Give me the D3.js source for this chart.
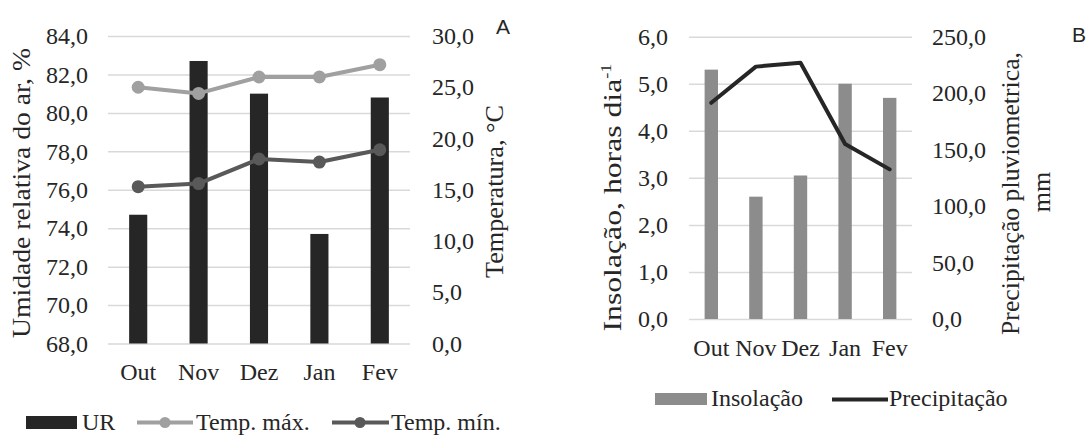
<!DOCTYPE html>
<html>
<head>
<meta charset="utf-8">
<script src="https://cdn.jsdelivr.net/npm/d3@7"></script>
<style>
  html, body { margin: 0; padding: 0; background: #fff; }
  svg { display: block; }
  text { font-family: "Liberation Serif", "Times New Roman", serif; fill: #262626; }
</style>
</head>
<body>
<script>
// ---------- data ----------
const months = ["Out", "Nov", "Dez", "Jan", "Fev"];
const ur = [74.7, 82.7, 81.0, 73.7, 80.8];
const tempMax = [25.0, 24.4, 26.0, 26.0, 27.2];
const tempMin = [15.3, 15.6, 18.0, 17.7, 18.9];
const insolacao = [5.3, 2.6, 3.05, 5.0, 4.7];
const precipitacao = [191.5, 223.5, 227.0, 155.0, 132.5];

const urTicks = [68, 70, 72, 74, 76, 78, 80, 82, 84];
const tempTicks = [0, 5, 10, 15, 20, 25, 30];
const insTicks = [0, 1, 2, 3, 4, 5, 6];
const precTicks = [0, 50, 100, 150, 200, 250];

const fmt = v => d3.format(".1f")(v).replace(".", ",");

const W = 1088, H = 435;
const svg = d3.select("body").append("svg").attr("width", W).attr("height", H);

const gridColor = "#d9d9d9";
const tickFont = 24;
const textColor = "#262626";

function styleAxis(g) {
  g.select(".domain").remove();
  g.selectAll("text").style("font-size", tickFont + "px").attr("fill", textColor)
    .style("font-family", '"Liberation Serif", "Times New Roman", serif');
}

// ================= Panel A =================
const A = { left: 108, right: 410, top: 36, bottom: 343.5 };
const xA = d3.scaleBand().domain(months).range([A.left, A.right]).paddingInner(0.7).paddingOuter(0.35);
const yA = d3.scaleLinear().domain([68, 84]).range([A.bottom, A.top]);
const yA2 = d3.scaleLinear().domain([0, 30]).range([A.bottom, A.top]);

// grid
svg.append("g").attr("transform", `translate(${A.left},0)`)
  .call(d3.axisLeft(yA).tickValues(urTicks).tickSize(-(A.right - A.left)).tickFormat(""))
  .call(g => { g.select(".domain").remove(); g.selectAll("line").attr("stroke", gridColor).attr("stroke-width", 1.5); });

// left labels
svg.append("g").attr("transform", `translate(${A.left},0)`)
  .call(d3.axisLeft(yA).tickValues(urTicks).tickSize(0).tickPadding(20).tickFormat(fmt))
  .call(styleAxis);

// right labels
svg.append("g").attr("transform", `translate(${A.right},0)`)
  .call(d3.axisRight(yA2).tickValues(tempTicks).tickSize(0).tickPadding(22).tickFormat(fmt))
  .call(styleAxis);

// x labels
svg.append("g").attr("transform", `translate(0,${A.bottom})`)
  .call(d3.axisBottom(xA).tickSize(0).tickPadding(19.5))
  .call(styleAxis);

// bars
svg.append("g").selectAll("rect").data(ur).join("rect")
  .attr("x", (d, i) => xA(months[i]))
  .attr("width", xA.bandwidth())
  .attr("y", d => yA(d))
  .attr("height", d => yA(68) - yA(d))
  .attr("fill", "#262626");

function lineSeries(vals, color, xs, ys, marker) {
  const line = d3.line().x((d, i) => xs(months[i]) + xs.bandwidth() / 2).y(d => ys(d));
  svg.append("path").datum(vals).attr("d", line).attr("fill", "none")
    .attr("stroke", color).attr("stroke-width", 4).attr("stroke-linejoin", "round").attr("stroke-linecap", "round");
  if (marker) {
    svg.append("g").selectAll("circle").data(vals).join("circle")
      .attr("cx", (d, i) => xs(months[i]) + xs.bandwidth() / 2)
      .attr("cy", d => ys(d)).attr("r", 6.5).attr("fill", color);
  }
}
lineSeries(tempMax, "#a0a0a0", xA, yA2, true);
lineSeries(tempMin, "#595959", xA, yA2, true);

// titles A
svg.append("text").attr("transform", "translate(30,193) rotate(-90)")
  .attr("text-anchor", "middle").style("font-size", "26px")
  .attr("textLength", 290).attr("lengthAdjust", "spacingAndGlyphs")
  .text("Umidade relativa do ar, %");
svg.append("text").attr("transform", "translate(503,191.5) rotate(-90)")
  .attr("text-anchor", "middle").style("font-size", "26px")
  .attr("textLength", 173).attr("lengthAdjust", "spacingAndGlyphs")
  .text("Temperatura, °C");

svg.append("text").attr("x", 496).attr("y", 34)
  .style("font-family", '"Liberation Sans", Arial, sans-serif').style("font-size", "21px").attr("fill", "#1a1a1a")
  .text("A");

// legend A
const legA = svg.append("g");
legA.append("rect").attr("x", 26).attr("y", 416).attr("width", 51).attr("height", 13).attr("fill", "#262626");
legA.append("text").attr("x", 82).attr("y", 430).style("font-size", "24px").text("UR");
legA.append("line").attr("x1", 137).attr("x2", 193).attr("y1", 422.5).attr("y2", 422.5).attr("stroke", "#a0a0a0").attr("stroke-width", 4);
legA.append("circle").attr("cx", 165).attr("cy", 422.5).attr("r", 5.5).attr("fill", "#a0a0a0");
legA.append("text").attr("x", 196).attr("y", 430).style("font-size", "24px").text("Temp. máx.");
legA.append("line").attr("x1", 332).attr("x2", 389).attr("y1", 422.5).attr("y2", 422.5).attr("stroke", "#595959").attr("stroke-width", 4);
legA.append("circle").attr("cx", 360).attr("cy", 422.5).attr("r", 5.5).attr("fill", "#595959");
legA.append("text").attr("x", 391).attr("y", 430).style("font-size", "24px").text("Temp. mín.");

// ================= Panel B =================
const B = { left: 689, right: 912, top: 36.7, bottom: 319 };
const xB = d3.scaleBand().domain(months).range([B.left, B.right]).paddingInner(0.7).paddingOuter(0.35);
const yB = d3.scaleLinear().domain([0, 6]).range([B.bottom, B.top]);
const yB2 = d3.scaleLinear().domain([0, 250]).range([B.bottom, B.top]);

svg.append("g").attr("transform", `translate(${B.left},0)`)
  .call(d3.axisLeft(yB).tickValues(insTicks).tickSize(-(B.right - B.left)).tickFormat(""))
  .call(g => { g.select(".domain").remove(); g.selectAll("line").attr("stroke", gridColor).attr("stroke-width", 1.5); });

svg.append("g").attr("transform", `translate(${B.left},0)`)
  .call(d3.axisLeft(yB).tickValues(insTicks).tickSize(0).tickPadding(21).tickFormat(fmt))
  .call(styleAxis);

svg.append("g").attr("transform", `translate(${B.right},0)`)
  .call(d3.axisRight(yB2).tickValues(precTicks).tickSize(0).tickPadding(20).tickFormat(fmt))
  .call(styleAxis);

svg.append("g").attr("transform", `translate(0,${B.bottom})`)
  .call(d3.axisBottom(xB).tickSize(0).tickPadding(20))
  .call(styleAxis);

svg.append("g").selectAll("rect").data(insolacao).join("rect")
  .attr("x", (d, i) => xB(months[i]))
  .attr("width", xB.bandwidth())
  .attr("y", d => yB(d))
  .attr("height", d => yB(0) - yB(d))
  .attr("fill", "#8c8c8c");

lineSeries(precipitacao, "#262626", xB, yB2, false);

// titles B
const tB = svg.append("text").attr("transform", "translate(621,197.5) rotate(-90)")
  .attr("text-anchor", "middle").style("font-size", "26px")
  .attr("textLength", 268).attr("lengthAdjust", "spacingAndGlyphs");
tB.append("tspan").text("Insolação, horas dia");
tB.append("tspan").attr("dy", -10).style("font-size", "15px").text("-1");

svg.append("text").attr("transform", "translate(1019,193.5) rotate(-90)")
  .attr("text-anchor", "middle").style("font-size", "26px")
  .attr("textLength", 283).attr("lengthAdjust", "spacingAndGlyphs")
  .text("Precipitação pluviometrica,");
svg.append("text").attr("transform", "translate(1050,192) rotate(-90)")
  .attr("text-anchor", "middle").style("font-size", "26px")
  .text("mm");

svg.append("text").attr("x", 1072).attr("y", 42)
  .style("font-family", '"Liberation Sans", Arial, sans-serif').style("font-size", "21px").attr("fill", "#1a1a1a")
  .text("B");

// legend B
const legB = svg.append("g");
legB.append("rect").attr("x", 655).attr("y", 393).attr("width", 52).attr("height", 12).attr("fill", "#8c8c8c");
legB.append("text").attr("x", 711).attr("y", 406).style("font-size", "24px").text("Insolação");
legB.append("line").attr("x1", 832).attr("x2", 888).attr("y1", 399.5).attr("y2", 399.5).attr("stroke", "#262626").attr("stroke-width", 4);
legB.append("text").attr("x", 889).attr("y", 406).style("font-size", "24px").text("Precipitação");
</script>
</body>
</html>
